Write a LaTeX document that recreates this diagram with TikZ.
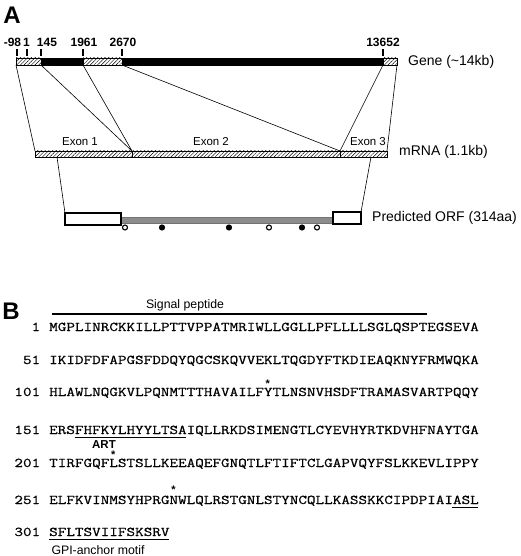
\documentclass[tikz,border=0pt]{standalone}
\usepackage{fontspec}
\setmainfont{Liberation Sans}
\newfontfamily\seqfont{Latin Modern Mono}[FakeStretch=1.245,FakeBold=0.6]
\usetikzlibrary{patterns.meta}
\begin{document}
\begin{tikzpicture}[x=1pt,y=-1pt,
  hatch/.style={draw=black, line width=0.6pt, pattern={Lines[angle=45,distance=2.6pt,line width=0.45pt]}},
  blackbar/.style={fill=black, draw=black, line width=0.6pt},
  conn/.style={draw=black, line width=0.6pt},
  ticklbl/.style={font=\bfseries\fontsize{12}{14}\selectfont, inner sep=0},
  tickmark/.style={draw=black, line width=1.6pt},
  sidelbl/.style={font=\fontsize{14}{16}\selectfont, anchor=west, inner sep=0},
  exonlbl/.style={font=\fontsize{11.5}{13}\selectfont, inner sep=0},
  panel/.style={font=\bfseries\fontsize{24}{27}\selectfont, inner sep=0},
  orfbox/.style={draw=black, fill=white, line width=1.2pt},
  orfbar/.style={fill=black!45, draw=black!55, line width=0.4pt},
  opencirc/.style={draw=black, fill=white, line width=1.1pt},
  fullcirc/.style={draw=black, fill=black, line width=1.1pt},
  seq/.style={font=\seqfont\fontsize{13.4}{16}\selectfont, anchor=base west, inner sep=0},
  seqnum/.style={font=\seqfont\fontsize{13.4}{16}\selectfont, anchor=base east, inner sep=0},
  star/.style={font=\bfseries\fontsize{11}{12}\selectfont, anchor=base, inner sep=0},
  uline/.style={draw=black, line width=1.3pt},
  motif/.style={font=\fontsize{12.3}{14}\selectfont, inner sep=0},
  motifb/.style={font=\bfseries\fontsize{11.5}{13}\selectfont, inner sep=0}]
\useasboundingbox (0,0) rectangle (520,556);

% ---------------- Panel A ----------------
\node[panel] (A) at (12,15) {A};

% gene bar
\path[hatch] (16,58) rectangle (41,65);
\path[blackbar] (41,58) rectangle (83,65);
\path[hatch] (83,58) rectangle (122,65);
\path[blackbar] (122,58) rectangle (383,65);
\path[hatch] (383,58) rectangle (397,65);

% gene coordinates (bottom edge)
\coordinate (g0) at (16,65);
\coordinate (g1) at (41,65);
\coordinate (g2) at (83,65);
\coordinate (g3) at (122,65);
\coordinate (g4) at (383,65);
\coordinate (g5) at (397,65);

% ticks
\foreach \x/\n in {17/t0,27/t1,41/t2,83/t3,122/t4,383/t5}{
  \coordinate (\n a) at (\x,49);
  \coordinate (\n b) at (\x,56);
  \draw[tickmark] (\n a) -- (\n b);
}
\node[ticklbl] (l0) at (12.5,42) {-98};
\node[ticklbl] (l1) at (26.5,42) {1};
\node[ticklbl] (l2) at (47,42) {145};
\node[ticklbl] (l3) at (84,42) {1961};
\node[ticklbl] (l4) at (123,42) {2670};
\node[ticklbl] (l5) at (383,42) {13652};
\node[sidelbl] (gene) at (408,62) {Gene (\textasciitilde 14kb)};

% mRNA bar
\path[hatch] (35,151) rectangle (387,157);
\coordinate (m0) at (35,151);
\coordinate (m1) at (132,151);
\coordinate (m2) at (340,151);
\coordinate (m3) at (387,151);
\coordinate (m1b) at (132,157);
\coordinate (m2b) at (340,157);
\draw[conn, line width=1pt] (m1) -- (m1b);
\draw[conn] (m2) -- (m2b);
\node[sidelbl] (mrna) at (399,152) {mRNA (1.1kb)};
\node[exonlbl] (e1) at (80,142) {Exon 1};
\node[exonlbl] (e2) at (211,142) {Exon 2};
\node[exonlbl] (e3) at (368,142) {Exon 3};

% connectors gene -> mRNA
\draw[conn] (g0) -- (m0);
\draw[conn] (g1) -- (m1);
\draw[conn] (g2) -- (m1);
\draw[conn] (g3) -- (m2);
\draw[conn] (g4) -- (m2);
\draw[conn] (g5) -- (m3);

% ORF
\path[orfbar] (121,217) rectangle (333,223);
\path[orfbox] (65,213) rectangle (121,225);
\path[orfbox] (333,212) rectangle (361,224);
\coordinate (ms) at (57,157);
\coordinate (me) at (371,157);
\coordinate (os) at (65,213);
\coordinate (oe) at (361,212);
\draw[conn] (ms) -- (os);
\draw[conn] (me) -- (oe);
\node[sidelbl] (orf) at (372,218) {Predicted ORF (314aa)};

\foreach \x in {125,269,317}{ \path[opencirc] (\x,227.5) circle (2.5); }
\foreach \x in {162,229,302}{ \path[fullcirc] (\x,227.5) circle (2.5); }

% ---------------- Panel B ----------------
\node[panel] (B) at (11,311) {B};

\coordinate (sp0) at (52,314);
\coordinate (sp1) at (427,314);
\draw[uline, line width=1.2pt] (sp0) -- (sp1);
\node[motif] (sptxt) at (185,305) {Signal peptide};

\def\ww{8.58}
\node[seqnum] (n1) at (40.4,331) {1};
\node[seq] (s1) at (49,331) {MGPLINRCKKILLPTTVPPATMRIWLLGGLLPFLLLLSGLQSPTEGSEVA};
\node[seqnum] (n51) at (40.4,364) {51};
\node[seq] (s51) at (49,364) {IKIDFDFAPGSFDDQYQGCSKQVVEKLTQGDYFTKDIEAQKNYFRMWQKA};
\node[seqnum] (n101) at (40.4,396) {101};
\node[seq] (s101) at (49,396) {HLAWLNQGKVLPQNMTTTHAVAILFYTLNSNVHSDFTRAMASVARTPQQY};
\node[seqnum] (n151) at (40.4,434) {151};
\node[seq] (s151) at (49,434) {ERSFHFKYLHYYLTSAIQLLRKDSIMENGTLCYEVHYRTKDVHFNAYTGA};
\node[seqnum] (n201) at (40.4,467) {201};
\node[seq] (s201) at (49,467) {TIRFGQFLSTSLLKEEAQEFGNQTLFTIFTCLGAPVQYFSLKKEVLIPPY};
\node[seqnum] (n251) at (40.4,504) {251};
\node[seq] (s251) at (49,504) {ELFKVINMSYHPRGNWLQLRSTGNLSTYNCQLLKASSKKCIPDPIAIASL};
\node[seqnum] (n301) at (40.4,536) {301};
\node[seq] (s301) at (49,536) {SFLTSVIIFSKSRV};

% stars
\node[star] (st1) at ({49+25.5*\ww},387) {*};
\node[star] (st2) at ({49+7.5*\ww},458.3) {*};
\node[star] (st3) at ({49+14.5*\ww},493) {*};

% underlines
\coordinate (art0) at ({49+3*\ww},437.5);
\coordinate (art1) at ({49+16*\ww},437.5);
\draw[uline] (art0) -- (art1);
\node[motifb] (art) at (104,444.3) {ART};

\coordinate (asl0) at ({49+47*\ww},507.5);
\coordinate (asl1) at ({49+50*\ww},507.5);
\draw[uline] (asl0) -- (asl1);
\coordinate (gpi0) at (49,539.5);
\coordinate (gpi1) at ({49+14*\ww},539.5);
\draw[uline] (gpi0) -- (gpi1);
\node[motif] (gpi) at (98,550) {GPI-anchor motif};
\end{tikzpicture}
\end{document}
